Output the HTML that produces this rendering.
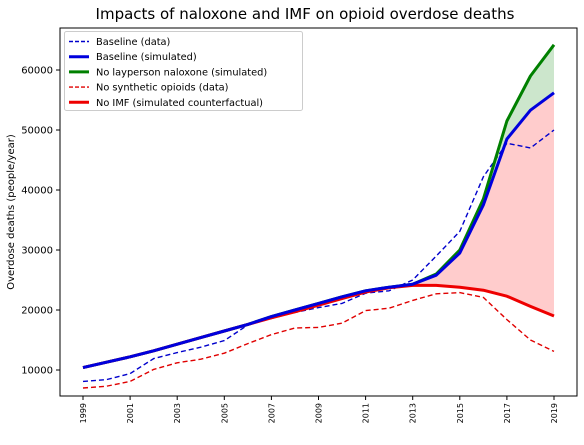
<!DOCTYPE html>
<html><head><meta charset="utf-8"><style>
body{margin:0;background:#fff;font-family:"Liberation Sans","DejaVu Sans",sans-serif}
svg text{font-family:"DejaVu Sans","Liberation Sans",sans-serif}
</style></head><body>
<svg id="chart" width="584" height="440" xmlns="http://www.w3.org/2000/svg">
<text x="305" y="19" font-size="15" text-anchor="middle">Impacts of naloxone and IMF on opioid overdose deaths</text>
<g id="plot"></g>
</svg>
<script>
const years=[1999,2000,2001,2002,2003,2004,2005,2006,2007,2008,2009,2010,2011,2012,2013,2014,2015,2016,2017,2018,2019];
const baseSim=[10400,11300,12200,13200,14300,15400,16500,17600,18900,20000,21100,22200,23200,23800,24300,25800,29500,37500,48500,53300,56200];
const noNalox=[10400,11300,12200,13200,14300,15400,16500,17600,18900,20000,21100,22200,23200,23800,24300,26000,30000,38500,51500,59000,64200];
const noIMF=[10400,11300,12200,13200,14300,15400,16500,17600,18700,19700,20800,21900,23000,23700,24100,24100,23800,23300,22300,20600,19000];
const baseData=[8100,8400,9400,11900,12900,13800,14900,17500,18600,19600,20400,21100,22800,23200,25000,29000,33100,42200,47800,47000,50000];
const noSynData=[7000,7300,8100,10100,11200,11800,12800,14400,15900,17000,17100,17800,19900,20300,21600,22700,22900,22100,18400,15000,13100];
const yTicks=[10000,20000,30000,40000,50000,60000];
const xTicks=[1999,2001,2003,2005,2007,2009,2011,2013,2015,2017,2019];
const L=60,R=577,T=28,B=396;
const x=v=>83+(v-1999)*(554-83)/20;
const y=v=>370-(v-10000)*0.006;
const NS="http://www.w3.org/2000/svg";
const g=document.getElementById('plot');
function mk(t,a){const e=document.createElementNS(NS,t);for(const k in a)e.setAttribute(k,a[k]);g.appendChild(e);return e;}
function pts(arr){return arr.map((v,i)=>x(years[i])+','+y(v)).join(' ');}
function band(a,b){return pts(a)+' '+b.map((v,i)=>x(years[i])+','+y(v)).reverse().join(' ');}
let e;
e=mk('polygon',{points:band(noNalox,baseSim),fill:'#008000','fill-opacity':0.2});


e=mk('polygon',{points:band(baseSim,noIMF),fill:'#ff0000','fill-opacity':0.2});


const series=[
 [baseData,'#0000cc',1.4,'5,3','baseline-data-line'],
 [noSynData,'#e00000',1.4,'5,3','no-synthetic-data-line'],
 [noNalox,'#008000',3,'','no-naloxone-line'],
 [noIMF,'#ee0000',3,'','no-imf-line'],
 [baseSim,'#0000dd',3,'','baseline-sim-line']];
series.forEach(s=>{const p=mk('polyline',{points:pts(s[0]),fill:'none',stroke:s[1],'stroke-width':s[2],'stroke-dasharray':s[3],'stroke-linejoin':'round'});

});
e=mk('rect',{x:L,y:T,width:R-L,height:B-T,fill:'none',stroke:'#000','stroke-width':1});


yTicks.forEach(v=>{mk('line',{x1:L-4,x2:L,y1:y(v),y2:y(v),stroke:'#000'});
const t=mk('text',{x:L-7,y:y(v)+3.5,'font-size':10,'text-anchor':'end'});t.textContent=v;

});
xTicks.forEach(v=>{mk('line',{x1:x(v),x2:x(v),y1:B,y2:B+4,stroke:'#000'});
const t=mk('text',{x:0,y:0,'font-size':8,'text-anchor':'end',transform:`translate(${x(v)+3},${B+7}) rotate(-90)`});t.textContent=v;

});
e=mk('text',{x:0,y:0,'font-size':10,'text-anchor':'middle',transform:'translate(14,212) rotate(-90)'});e.textContent='Overdose deaths (people/year)';


e=mk('rect',{x:64.5,y:31.5,width:238,height:79,fill:'#fff',stroke:'#ccc',rx:2});


const leg=[['Baseline (data)','#0000cc',1.4,'4,2'],['Baseline (simulated)','#0000dd',3,''],['No layperson naloxone (simulated)','#008000',3,''],['No synthetic opioids (data)','#e00000',1.4,'4,2'],['No IMF (simulated counterfactual)','#ee0000',3,'']];
leg.forEach((l,i)=>{const yy=41.5+i*15.2;
mk('line',{x1:69,x2:89,y1:yy,y2:yy,stroke:l[1],'stroke-width':l[2],'stroke-dasharray':l[3]});
const t=mk('text',{x:96,y:yy+3.5,'font-size':9.8});t.textContent=l[0];

});
</script>
</body></html>
